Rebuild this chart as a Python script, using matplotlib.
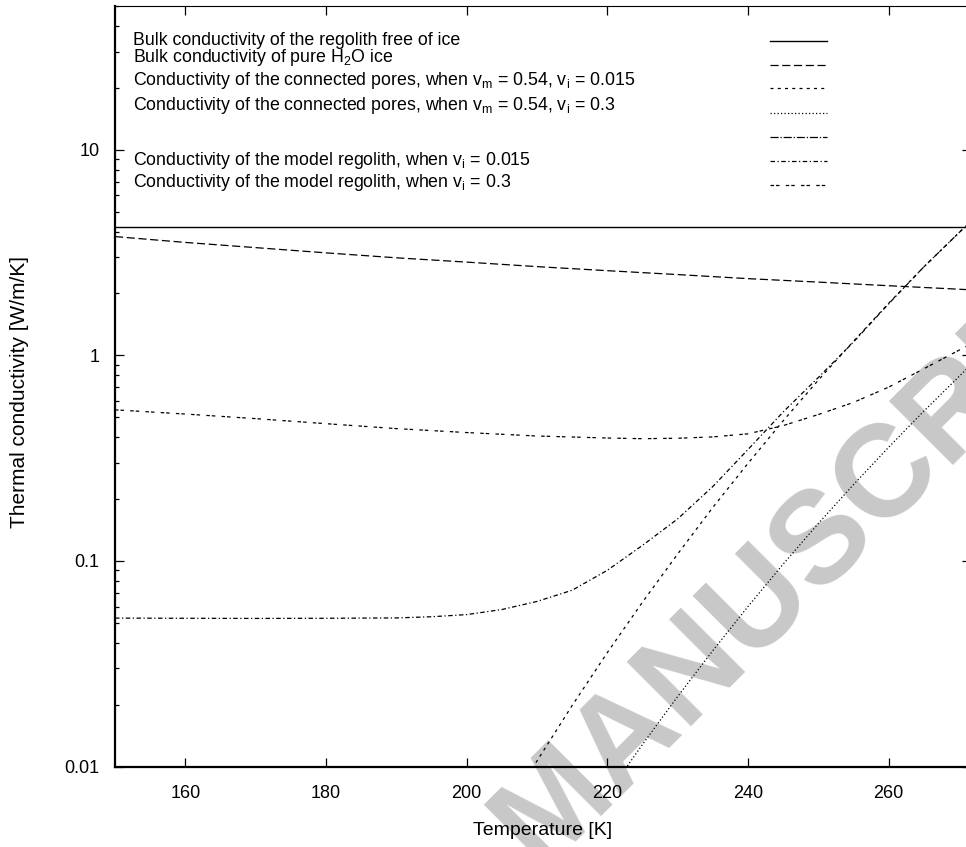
import matplotlib
matplotlib.use("Agg")
import matplotlib.pyplot as plt
from matplotlib.lines import Line2D
from matplotlib.ticker import LogLocator, NullFormatter, FixedLocator

plt.rcParams['font.family'] = ['Liberation Sans', 'DejaVu Sans']
plt.rcParams['mathtext.fontset'] = 'custom'
plt.rcParams['mathtext.rm'] = 'Liberation Sans'
plt.rcParams['mathtext.it'] = 'Liberation Sans:italic'
plt.rcParams['mathtext.bf'] = 'Liberation Sans:bold'

# ---------------- data ----------------
regolith_T = [150, 272]
regolith_k = [4.2, 4.2]

ice_T = [150, 160, 170, 180, 190, 200, 210, 220, 230, 240, 250, 260, 272]
ice_k = [3.78, 3.54, 3.34, 3.15, 2.98, 2.84, 2.70, 2.58, 2.47, 2.36, 2.27, 2.18, 2.08]

pores015_T = [205, 209.5, 215, 220, 225, 230, 235, 240, 245, 250, 255, 260, 265, 272]
pores015_k = [0.0056, 0.0100, 0.0198, 0.0358, 0.0630, 0.108, 0.182, 0.298, 0.480,
              0.757, 1.17, 1.79, 2.69, 4.6]

pores03_T = [220, 222.8, 225, 230, 235, 240, 245, 250, 255, 260, 265, 272]
pores03_k = [0.0073, 0.0100, 0.0128, 0.0219, 0.0366, 0.0600, 0.0964, 0.152, 0.235,
             0.357, 0.535, 0.92]

model015_T = [150, 160, 170, 180, 190, 195, 200, 205, 210, 215, 220, 225, 230, 235,
              240, 245, 250, 255, 260, 265, 272]
model015_k = [0.0527, 0.0526, 0.0525, 0.0526, 0.0528, 0.0535, 0.0548, 0.058, 0.0635,
              0.072, 0.090, 0.119, 0.160, 0.23, 0.348, 0.53, 0.78, 1.16, 1.78, 2.69, 4.6]

model03_T = [150, 160, 170, 180, 190, 200, 210, 220, 225, 230, 235, 240, 245, 250,
             255, 260, 265, 272]
model03_k = [0.543, 0.518, 0.492, 0.465, 0.440, 0.421, 0.405, 0.396, 0.393, 0.395,
             0.401, 0.415, 0.455, 0.515, 0.59, 0.70, 0.86, 1.15]

legend_labels = [
    "Bulk conductivity of the regolith free of ice",
    "Bulk conductivity of pure H$_2$O ice",
    r"Conductivity of the connected pores, when v$_\mathrm{m}$ = 0.54, v$_\mathrm{i}$ = 0.015",
    r"Conductivity of the connected pores, when v$_\mathrm{m}$ = 0.54, v$_\mathrm{i}$ = 0.3",
    "",
    r"Conductivity of the model regolith, when v$_\mathrm{i}$ = 0.015",
    r"Conductivity of the model regolith, when v$_\mathrm{i}$ = 0.3",
]

x_ticks = [160, 180, 200, 220, 240, 260]
y_ticks = [0.01, 0.1, 1, 10]
y_tick_labels = ["0.01", "0.1", "1", "10"]

# ---------------- styles ----------------
LW = 0.9
styles = [
    dict(linestyle='-', linewidth=1.0),
    dict(linestyle=(0, (6.5, 2.9)), linewidth=LW),
    dict(linestyle=(0, (2.4, 3.4)), linewidth=LW),
    dict(linestyle=(0, (1.0, 1.8)), linewidth=LW),
    dict(linestyle=(0, (6.5, 1.5, 1.0, 1.5)), linewidth=LW),
    dict(linestyle=(0, (3.6, 2.0, 1.0, 2.0)), linewidth=LW),
    dict(linestyle=(0, (2.8, 1.6, 2.8, 5.0)), linewidth=LW),
]

W, H = 966, 847
fig = plt.figure(figsize=(W / 100, H / 100), dpi=100)

# axes geometry in pixels
L, R, T, B = 115, 971, 6, 766.5
ax = fig.add_axes([L / W, (H - B) / H, (R - L) / W, (B - T) / H])
ax.patch.set_visible(False)

# watermark (beneath the plot)
fig.text(823 / W, 1 - 537 / H, "MANUSCRIPT", rotation=45, rotation_mode='anchor',
         ha='center', va='center', fontsize=94, fontweight='bold',
         color='#c8c8c8', zorder=-5)

series = [
    (regolith_T, regolith_k),
    (ice_T, ice_k),
    (pores015_T, pores015_k),
    (pores03_T, pores03_k),
    None,
    (model015_T, model015_k),
    (model03_T, model03_k),
]
for s, st in zip(series, styles):
    if s is None:
        continue
    ax.plot(s[0], s[1], color='black', **st)

ax.set_yscale('log')
ax.set_xlim(150, 150 + (R - L) / 7.033)
ax.set_ylim(0.01, 50)

ax.xaxis.set_major_locator(FixedLocator(x_ticks))
ax.set_xticklabels([str(v) for v in x_ticks])
ax.yaxis.set_major_locator(FixedLocator(y_ticks))
ax.set_yticklabels(y_tick_labels)
ax.yaxis.set_minor_locator(LogLocator(base=10, subs=range(2, 10), numticks=20))
ax.yaxis.set_minor_formatter(NullFormatter())

ax.tick_params(which='both', direction='in', top=True, right=True, width=0.9,
               labelsize=13)
ax.tick_params(which='major', length=6.5)
ax.tick_params(which='minor', length=3.2)
ax.tick_params(axis='x', pad=13)
ax.tick_params(axis='y', pad=11)

for side in ['left', 'bottom']:
    ax.spines[side].set_linewidth(1.6)
for side in ['top', 'right']:
    ax.spines[side].set_linewidth(0.8)

ax.set_xlabel("Temperature [K]", fontsize=14)
ax.xaxis.set_label_coords(0.5, (B - 830) / (B - T))
ax.xaxis.label.set_verticalalignment('center')
ax.set_ylabel("Thermal conductivity [W/m/K]", fontsize=15)
ax.yaxis.set_label_coords((20 - L) / (R - L), (B - 392) / (B - T))
ax.yaxis.label.set_verticalalignment('center')

# key (gnuplot style: text on left, samples on right)
def fx(px):
    return (px - L) / (R - L)

def fy(py):
    return (B - py) / (B - T)

text_baselines = [45, 62, 85, 110, None, 165, 187]
sample_y = [40.7, 65, 88.3, 113.3, 137.3, 161, 185.3]
for lab, tb, sy, st in zip(legend_labels, text_baselines, sample_y, styles):
    if lab and tb is not None:
        ax.text(fx(133), fy(tb), lab, transform=ax.transAxes, ha='left',
                va='baseline', fontsize=12.8)
    ax.add_line(Line2D([fx(770), fx(827)], [fy(sy), fy(sy)], transform=ax.transAxes,
                       color='black', clip_on=False, **st))

fig.savefig("out.png", dpi=100)
